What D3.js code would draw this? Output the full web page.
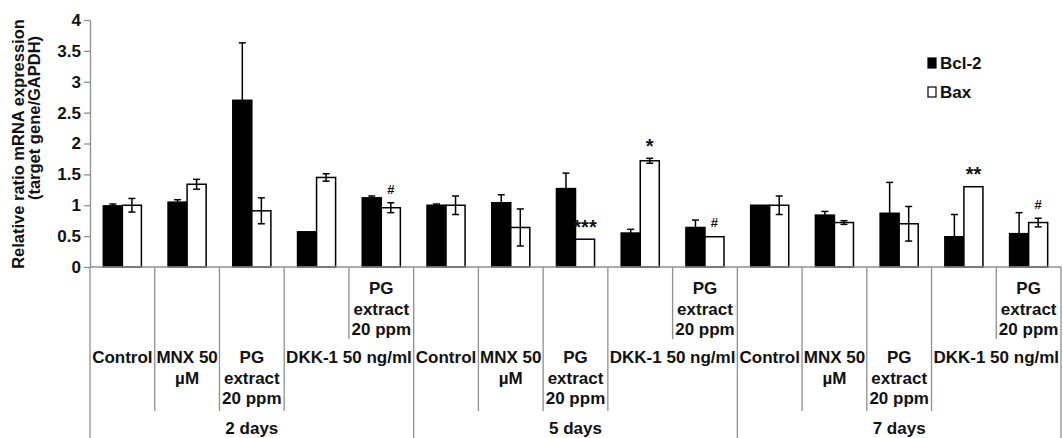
<!DOCTYPE html>
<html>
<head>
  <meta charset="utf-8">
  <title>Bcl-2 / Bax mRNA expression</title>
  <script src="https://d3js.org/d3.v7.min.js"></script>
  <style>
    body { margin: 0; background: #fff; }
    svg { display: block; font-family: "Liberation Sans", Arial, sans-serif; font-weight: bold; }
  </style>
</head>
<body>
  <div id="chart"></div>
  <script>
    // data
    var groups = ["2 days", "5 days", "7 days"];
    var treatments = [["Control"], ["MNX 50", "µM"], ["PG", "extract", "20 ppm"], ["DKK-1 50 ng/ml"], ["PG", "extract", "20 ppm"]];
    var seriesNames = ["Bcl-2", "Bax"];
    var bcl2 = [0.99, 1.05, 2.70, 0.57, 1.12, 1.00, 1.04, 1.27, 0.55, 0.64, 1.00, 0.84, 0.87, 0.49, 0.54];
    var bcl2Err = [0.03, 0.04, 0.93, 0.01, 0.03, 0.02, 0.13, 0.25, 0.06, 0.12, 0.01, 0.06, 0.50, 0.36, 0.34];
    var bax = [1.00, 1.34, 0.91, 1.45, 0.96, 1.00, 0.64, 0.45, 1.72, 0.49, 1.00, 0.72, 0.70, 1.30, 0.72];
    var baxErr = [0.11, 0.08, 0.21, 0.06, 0.08, 0.15, 0.30, 0.01, 0.04, 0.01, 0.15, 0.03, 0.28, 0.01, 0.07];
    var marks = ["", "", "", "", "#", "", "", "***", "*", "#", "", "", "", "**", "#"];
    var yTicks = [0, 0.5, 1, 1.5, 2, 2.5, 3, 3.5, 4];
    var yTitle = ["Relative ratio mRNA expression", "(target gene/GAPDH)"];

    var W = 1063, H = 438;
    var plotLeft = 90, plotRight = 1061, plotTop = 20, plotBase = 267;
    var grey = "#8f8f8f";

    var svg = d3.select("#chart").append("svg")
      .attr("width", W).attr("height", H);

    var cats = [];
    groups.forEach(function(g, gi) {
      treatments.forEach(function(t, ti) { cats.push({ i: cats.length, g: gi, t: ti, lines: t }); });
    });

    var x = d3.scaleBand().domain(d3.range(cats.length)).range([plotLeft, plotRight]);
    var xs = d3.scaleBand().domain(seriesNames).range([0, x.bandwidth()]).paddingOuter(0.7);
    var y = d3.scaleLinear().domain([0, 4]).range([plotBase, plotTop]);

    // y axis
    var yAxis = svg.append("g")
      .attr("transform", "translate(" + plotLeft + ",0)")
      .call(d3.axisLeft(y).tickValues(yTicks).tickSize(6).tickSizeOuter(0).tickPadding(3).tickFormat(function(d) { return d; }));
    yAxis.select(".domain").attr("stroke", grey).attr("stroke-width", 1.3);
    yAxis.selectAll(".tick line").attr("stroke", grey).attr("stroke-width", 1.3);
    yAxis.selectAll(".tick text").attr("font-size", 17).attr("font-family", "Liberation Sans, Arial, sans-serif")
      .attr("font-weight", "bold").attr("fill", "#111");

    var title = svg.append("g").attr("font-size", 16.5).attr("fill", "#111");
    title.append("text").attr("transform", "translate(23.5,144) rotate(-90)").attr("text-anchor", "middle").text(yTitle[0]);
    title.append("text").attr("transform", "translate(39.5,118) rotate(-90)").attr("text-anchor", "middle").text(yTitle[1]);

    // bars
    var series = [
      { name: "Bcl-2", vals: bcl2, err: bcl2Err, fill: "#000" },
      { name: "Bax", vals: bax, err: baxErr, fill: "#fff" }
    ];
    series.forEach(function(s) {
      var g = svg.append("g");
      g.selectAll("rect").data(cats).enter().append("rect")
        .attr("x", function(d) { return x(d.i) + xs(s.name); })
        .attr("y", function(d) { return y(s.vals[d.i]); })
        .attr("width", xs.bandwidth())
        .attr("height", function(d) { return y(0) - y(s.vals[d.i]); })
        .attr("fill", s.fill).attr("stroke", "#000").attr("stroke-width", 1.5);
    });
    series.forEach(function(s) {
      var g = svg.append("g").attr("stroke", "#000").attr("stroke-width", 1.5);
      cats.forEach(function(d) {
        var cx = x(d.i) + xs(s.name) + xs.bandwidth() / 2;
        var v = s.vals[d.i], e = s.err[d.i];
        if (e <= 0.015) return;
        g.append("line").attr("x1", cx).attr("x2", cx).attr("y1", y(v - e)).attr("y2", y(v + e));
        g.append("line").attr("x1", cx - 3.5).attr("x2", cx + 3.5).attr("y1", y(v + e)).attr("y2", y(v + e));
        g.append("line").attr("x1", cx - 3.5).attr("x2", cx + 3.5).attr("y1", y(v - e)).attr("y2", y(v - e));
      });
    });

    // significance marks over Bax
    svg.append("g").selectAll("text").data(cats.filter(function(d) { return marks[d.i]; })).enter().append("text")
      .attr("x", function(d) { return x(d.i) + xs("Bax") + xs.bandwidth() / 2; })
      .attr("y", function(d) {
        var t = y(bax[d.i] + baxErr[d.i]);
        return marks[d.i] == "#" ? t - 9 : t - 5;
      })
      .attr("text-anchor", "middle")
      .attr("font-size", function(d) { return marks[d.i] == "#" ? 13 : 20; })
      .attr("fill", "#111")
      .text(function(d) { return marks[d.i]; });

    // category axis
    svg.append("line").attr("x1", plotLeft).attr("x2", plotRight).attr("y1", plotBase).attr("y2", plotBase)
      .attr("stroke", grey).attr("stroke-width", 1.3);

    var raised = {};
    var lab = svg.append("g").attr("font-size", 17).attr("fill", "#111").attr("text-anchor", "middle");
    cats.forEach(function(d) {
      var t = lab.append("text");
      d.lines.forEach(function(l, k) {
        t.append("tspan").attr("x", 0).attr("y", k * 20.5).text(l);
      });
      var cx = x(d.i) + x.bandwidth() / 2, cy = 363;
      if (raised[d.i]) cy = 294;
      else if (d.lines.length == 1 && t.node().getBBox().width > x.bandwidth() - 2) {
        // too wide: spread over the next slot, which moves up a row
        cx = x(d.i + 1);
        raised[d.i + 1] = true;
      }
      t.attr("transform", "translate(" + cx + "," + cy + ")");
    });

    var seps = d3.range(cats.length + 1);
    svg.append("g").selectAll("line").data(seps).enter().append("line")
      .attr("x1", function(b) { return b < cats.length ? x(b) : plotRight; })
      .attr("x2", function(b) { return b < cats.length ? x(b) : plotRight; })
      .attr("y1", plotBase)
      .attr("y2", function(b) {
        if (b % treatments.length == 0) return H;
        return raised[b] ? 339 : 411;
      })
      .attr("stroke", grey).attr("stroke-width", 1.3);

    svg.append("g").attr("font-size", 17).attr("fill", "#111").attr("text-anchor", "middle")
      .selectAll("text").data(groups).enter().append("text")
      .attr("x", function(g, gi) { return (x(gi * treatments.length) + (gi == groups.length - 1 ? plotRight : x((gi + 1) * treatments.length))) / 2; })
      .attr("y", 434)
      .text(function(g) { return g; });

    // legend
    var leg = svg.append("g").attr("font-size", 17).attr("fill", "#111");
    series.forEach(function(s, k) {
      leg.append("rect").attr("x", 928).attr("y", 58 + k * 29).attr("width", 8).attr("height", 10)
        .attr("fill", s.fill).attr("stroke", "#000").attr("stroke-width", 1.2);
      leg.append("text").attr("x", 940).attr("y", 69 + k * 29).text(s.name);
    });
  </script>
</body>
</html>
